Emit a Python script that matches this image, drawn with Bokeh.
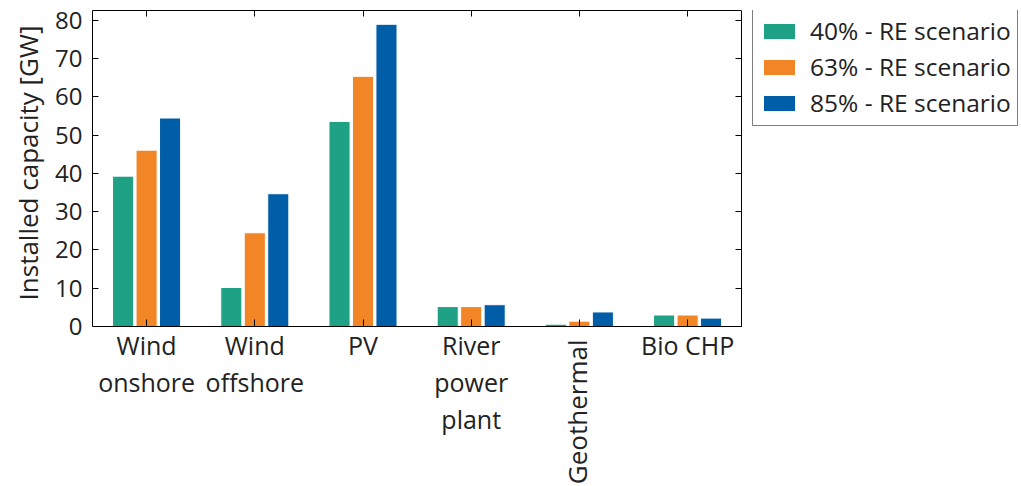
import math
from bokeh.plotting import figure
from bokeh.models import (ColumnDataSource, Legend, LegendItem, LinearAxis, FixedTicker,
                          Range1d, Title)
from bokeh.transform import dodge
from bokeh.embed import file_html
from bokeh.resources import INLINE

categories = ["Wind onshore", "Wind offshore", "PV", "River power plant", "Geothermal", "Bio CHP"]
tick_labels = ["Wind\nonshore", "Wind\noffshore", "PV", "River\npower\nplant", "", "Bio CHP"]
rotated_label = "Geothermal"
re40 = [39.3, 10.2, 53.6, 5.2, 0.6, 3.0]
re63 = [46.1, 24.5, 65.4, 5.2, 1.4, 3.0]
re85 = [54.5, 34.7, 79.0, 5.7, 3.8, 2.2]
series_names = ["40% - RE scenario", "63% - RE scenario", "85% - RE scenario"]
colors = ["#1ea184", "#f28525", "#005ea8"]
y_ticks = [0, 10, 20, 30, 40, 50, 60, 70, 80]
y_title = "Installed capacity [GW]"

FONT = "Open Sans"
TXT = "#222222"

# layout constants (pixels)
W, H = 1021, 486
LEFT, TOP = 88, 10
AXIS_Y = 326            # pixel row of the zero line
PLOT_W = 652            # width of the boxed chart area
Y_TOP = 82.6
SCALE = (AXIS_Y - TOP) / Y_TOP           # px per GW
n = len(categories)
SLOT = PLOT_W / n                         # px per category
y_start = -(H - AXIS_Y) / SCALE
x_end = (W - LEFT) / SLOT

pos = [i + 0.5 for i in range(n)]        # category slot centres
source = ColumnDataSource(dict(cat=categories, pos=pos, re40=re40, re63=re63, re85=re85))

p = figure(x_range=Range1d(0, x_end), y_range=Range1d(y_start, Y_TOP), width=W, height=H,
           output_backend="svg", toolbar_location=None, x_axis_location=None,
           min_border_left=LEFT, min_border_right=0, min_border_top=TOP, min_border_bottom=0)
p.xgrid.visible = False
p.ygrid.visible = False
p.outline_line_color = None

renderers = []
for key, off, col in zip(["re40", "re63", "re85"], [-0.217, 0.0, 0.217], colors):
    r = p.vbar(x=dodge("pos", off), top=key, width=0.195, source=source,
               fill_color=col, line_color="white", line_width=1)
    renderers.append(r)

# left axis
ya = p.yaxis[0]
ya.ticker = FixedTicker(ticks=y_ticks)
ya.bounds = (0, Y_TOP)
ya.major_label_text_font = FONT
ya.major_label_text_font_size = "24px"
ya.major_label_text_color = TXT
ya.major_tick_in = 6
ya.major_tick_out = 0
ya.minor_tick_in = 0
ya.minor_tick_out = 0
ya.major_label_standoff = 10
ya.axis_line_color = "black"

# y-axis title, centred on the boxed area
p.add_layout(Title(text=y_title, align="right", offset=15, standoff=14,
                   text_font=FONT, text_font_size="26px", text_font_style="normal",
                   text_color=TXT), "left")

blank_pos = {t: "" for t in pos}
blank_y = {t: "" for t in y_ticks}

# top frame edge with inward ticks
top = LinearAxis(ticker=FixedTicker(ticks=pos), major_label_overrides=blank_pos, bounds=(0, n),
                 major_label_standoff=0, major_tick_in=6, major_tick_out=0,
                 minor_tick_in=0, minor_tick_out=0, axis_line_color="black")
p.add_layout(top, "above")
# zero line with upward ticks at category centres
base = LinearAxis(ticker=FixedTicker(ticks=pos), major_label_overrides=blank_pos, bounds=(0, n),
                  fixed_location=0, major_label_standoff=0, major_tick_in=0, major_tick_out=7,
                  minor_tick_in=0, minor_tick_out=0, axis_line_color="black")
p.add_layout(base, "above")
# right frame edge
right = LinearAxis(ticker=FixedTicker(ticks=y_ticks), major_label_overrides=blank_y,
                   bounds=(0, Y_TOP), fixed_location=n,
                   major_label_standoff=0, major_tick_in=6, major_tick_out=0,
                   minor_tick_in=0, minor_tick_out=0, axis_line_color="black")
p.add_layout(right, "right")

# category labels under the zero line
p.text(x=pos, y=[-1 / SCALE] * n, text=tick_labels, text_align="center",
       text_baseline="top", text_font={"value": FONT}, text_font_size="25px",
       text_color=TXT, text_line_height=1.1)
p.text(x=[pos[categories.index(rotated_label)]], y=[-13 / SCALE], text=[rotated_label],
       angle=math.pi / 2, x_offset=-2,
       text_align="right", text_baseline="middle", text_font={"value": FONT},
       text_font_size="26px", text_color=TXT)

# legend: (x, y) = left edge / bottom edge offsets inside the frame, in pixels
legend = Legend(items=[LegendItem(label=s, renderers=[r]) for s, r in zip(series_names, renderers)],
                location=(660, 360), orientation="vertical",
                label_text_font=FONT, label_text_font_size="24.5px", label_text_color=TXT,
                glyph_width=40, glyph_height=20, label_standoff=11,
                label_height=26, spacing=3, padding=6, margin=0,
                border_line_color="black", border_line_width=1,
                background_fill_color="white", background_fill_alpha=1)
p.add_layout(legend)

open("out.html", "w").write(file_html(p, INLINE))
